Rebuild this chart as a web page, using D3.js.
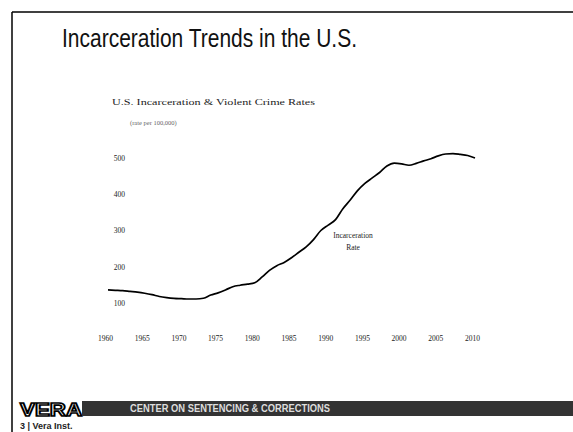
<!DOCTYPE html>
<html><head><meta charset="utf-8">
<script src="https://cdn.jsdelivr.net/npm/d3@7"></script>
<style>body{margin:0;background:#fff}svg{display:block}</style>
</head><body>
<svg id="c" width="573" height="432"></svg>
<script>
// ---- data ----
const years = [1960,1961,1962,1963,1964,1965,1966,1967,1968,1969,
  1970,1971,1972,1973,1974,1975,1976,1977,1978,1979,
  1980,1981,1982,1983,1984,1985,1986,1987,1988,1989,
  1990,1991,1992,1993,1994,1995,1996,1997,1998,1999,
  2000,2001,2002,2003,2004,2005,2006,2007,2008,2009,2010];
const incarcerationRate = [136,135,134,132,130,127,123,118,115,113,
  112,111,111,113,122,128,136,145,149,152,
  156,172,190,203,212,225,240,255,275,300,
  315,330,360,384,410,430,445,460,478,486,
  484,480,485,492,498,506,511,512,510,507,500];
const yTicks = [100,200,300,400,500];
const xTicks = [1960,1965,1970,1975,1980,1985,1990,1995,2000,2005,2010];
const slideTitle = "Incarceration Trends in the U.S.";
const chartTitle = "U.S. Incarceration & Violent Crime Rates";
const chartSubtitle = "(rate per 100,000)";
const seriesLabel = ["Incarceration", "Rate"];

const svg = d3.select("#c");
// slide frame
svg.append("line").attr("x1",12).attr("y1",12).attr("x2",573).attr("y2",12).attr("stroke","#000").attr("stroke-width",1.5);
svg.append("line").attr("x1",12).attr("y1",12).attr("x2",12).attr("y2",432).attr("stroke","#000").attr("stroke-width",1.5);

svg.append("text").attr("x",62).attr("y",47).text(slideTitle)
  .attr("font-family","Liberation Sans, Arial, sans-serif").attr("font-size",25)
  .attr("textLength",295).attr("lengthAdjust","spacingAndGlyphs").attr("fill","#111");

svg.append("text").attr("x",112).attr("y",105).text(chartTitle)
  .attr("font-family","Liberation Serif, serif").attr("font-size",9)
  .attr("textLength",203).attr("lengthAdjust","spacingAndGlyphs").attr("fill","#222");
svg.append("text").attr("x",130).attr("y",125).text(chartSubtitle)
  .attr("font-family","Liberation Serif, serif").attr("font-size",6.5).attr("fill","#666");

const x = d3.scaleLinear().domain([1960,2010]).range([108,475]);
const y = d3.scaleLinear().domain([100,500]).range([303,158]);

const ya = svg.append("g").attr("transform","translate(127,0)")
  .call(d3.axisLeft(y).tickValues(yTicks).tickSize(0).tickPadding(2));
ya.select(".domain").remove();
ya.selectAll("text").attr("font-family","Liberation Serif, serif").attr("font-size",7.5).attr("fill","#222");

const xa = svg.append("g").attr("transform","translate(-3,334)")
  .call(d3.axisBottom(x).tickValues(xTicks).tickFormat(d3.format("d")).tickSize(0).tickPadding(2));
xa.select(".domain").remove();
xa.selectAll("text").attr("font-family","Liberation Serif, serif").attr("font-size",7.5).attr("fill","#222");

const line = d3.line().x((d,i)=>x(years[i])).y(d=>y(d)).curve(d3.curveMonotoneX);
svg.append("path").datum(incarcerationRate).attr("d",line)
  .attr("fill","none").attr("stroke","#000").attr("stroke-width",1.7);

svg.append("text").attr("x",353).attr("y",238).attr("text-anchor","middle")
  .selectAll("tspan").data(seriesLabel).join("tspan")
  .attr("x",353).attr("dy",(d,i)=>i?12:0).text(d=>d)
  .attr("font-family","Liberation Serif, serif").attr("font-size",7.5).attr("fill","#222");

// footer
svg.append("text").attr("x",20).attr("y",416).text("VERA")
  .attr("font-family","Liberation Sans, Arial, sans-serif").attr("font-weight","bold").attr("font-size",18)
  .attr("textLength",62).attr("lengthAdjust","spacingAndGlyphs")
  .attr("fill","#fff").attr("stroke","#000").attr("stroke-width",1.6);
svg.append("rect").attr("x",82).attr("y",401).attr("width",491).attr("height",15).attr("fill","#333");
svg.append("text").attr("x",130).attr("y",412).text("CENTER ON SENTENCING & CORRECTIONS")
  .attr("font-family","Liberation Sans, Arial, sans-serif").attr("font-weight","bold").attr("font-size",10)
  .attr("textLength",200).attr("lengthAdjust","spacingAndGlyphs").attr("fill","#ddd");
svg.append("text").attr("x",20).attr("y",429).text("3 | Vera Inst.")
  .attr("font-family","Liberation Sans, Arial, sans-serif").attr("font-weight","bold").attr("font-size",9).attr("fill","#222");
</script>
</body></html>
